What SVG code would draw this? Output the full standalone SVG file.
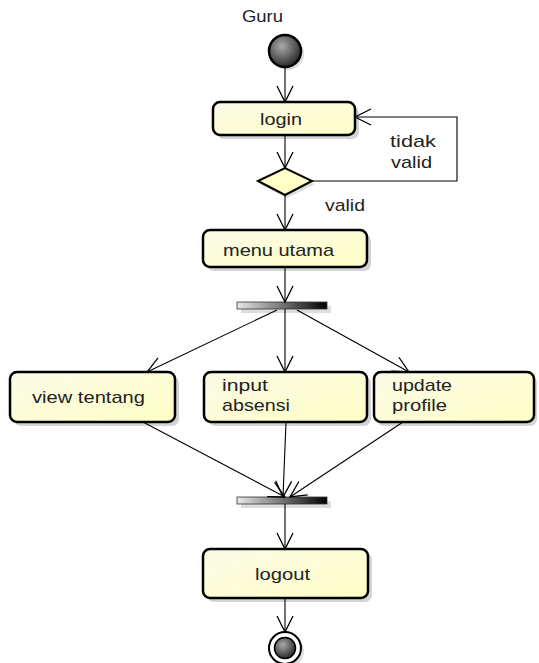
<svg xmlns="http://www.w3.org/2000/svg" width="539" height="663" viewBox="0 0 539 663">
<defs>
<linearGradient id="boxg" x1="0" y1="0" x2="1" y2="1">
<stop offset="0" stop-color="#fbfbe8"/>
<stop offset="1" stop-color="#ffffc6"/>
</linearGradient>
<linearGradient id="barg" x1="0" y1="0" x2="1" y2="0">
<stop offset="0" stop-color="#e8e8e8"/>
<stop offset="1" stop-color="#000"/>
</linearGradient>
<radialGradient id="ballg" cx="0.4" cy="0.35" r="0.7">
<stop offset="0" stop-color="#aaa"/>
<stop offset="1" stop-color="#222"/>
</radialGradient>
<marker id="arr" viewBox="0 0 20 20" refX="18" refY="10" markerWidth="20" markerHeight="20" markerUnits="userSpaceOnUse" orient="auto">
<path d="M2,2 L18,10 L2,18" fill="none" stroke="#000" stroke-width="1.3"/>
</marker>
</defs>
<style>
.box{fill:url(#boxg);stroke:#000;stroke-width:2.5}
.sh{fill:#d4d4d4}
.t{font-family:"Liberation Sans",Arial,sans-serif;font-size:17px;fill:#222}
.c{fill:none;stroke:#000;stroke-width:1.1}
</style>
<rect width="539" height="663" fill="#fff"/>
<text class="t" x="242" y="22" textLength="41" lengthAdjust="spacingAndGlyphs">Guru</text>

<g id="start">
<circle cx="288" cy="54" r="16" fill="#ddd"/>
<circle cx="285" cy="51" r="16" fill="url(#ballg)" stroke="#000" stroke-width="2.5"/>
</g>

<g id="login">
<rect class="sh" x="217" y="106" width="142" height="33" rx="7"/>
<rect class="box" x="213" y="102" width="142" height="33" rx="7"/>
<text class="t" x="260" y="125" textLength="42" lengthAdjust="spacingAndGlyphs">login</text>
</g>

<g id="decision">
<polygon points="259,184 287,171 315,184 287,198" fill="#ddd"/>
<polygon points="258,181 285,168 312,181 285,195" fill="#ffffc8" stroke="#000" stroke-width="2"/>
</g>

<g id="menu">
<rect class="sh" x="207" y="234" width="164" height="37" rx="7"/>
<rect class="box" x="203" y="230" width="164" height="37" rx="7"/>
<text class="t" x="223" y="256" textLength="111" lengthAdjust="spacingAndGlyphs">menu utama</text>
</g>

<g id="fork">
<rect x="241" y="306" width="90" height="7" fill="#ddd"/>
<rect x="237" y="302" width="90" height="7" fill="url(#barg)" stroke="#333" stroke-width="0.8"/>
</g>

<g id="view">
<rect class="sh" x="14" y="376" width="165" height="50" rx="7"/>
<rect class="box" x="10" y="372" width="165" height="50" rx="7"/>
<text class="t" x="32" y="403" textLength="113" lengthAdjust="spacingAndGlyphs">view tentang</text>
</g>

<g id="input">
<rect class="sh" x="208" y="376" width="163" height="50" rx="7"/>
<rect class="box" x="204" y="372" width="163" height="50" rx="7"/>
<text class="t" x="222" y="391" textLength="46" lengthAdjust="spacingAndGlyphs">input</text>
<text class="t" x="222" y="411" textLength="68" lengthAdjust="spacingAndGlyphs">absensi</text>
</g>

<g id="update">
<rect class="sh" x="377" y="376" width="160" height="50" rx="7"/>
<rect class="box" x="374" y="372" width="160" height="50" rx="7"/>
<text class="t" x="392" y="391" textLength="60" lengthAdjust="spacingAndGlyphs">update</text>
<text class="t" x="392" y="411" textLength="55" lengthAdjust="spacingAndGlyphs">profile</text>
</g>

<g id="join">
<rect x="241" y="501" width="90" height="7" fill="#ddd"/>
<rect x="237" y="497" width="90" height="7" fill="url(#barg)" stroke="#333" stroke-width="0.8"/>
</g>

<g id="logout">
<rect class="sh" x="207" y="553" width="165" height="49" rx="7"/>
<rect class="box" x="203" y="549" width="165" height="49" rx="7"/>
<text class="t" x="255" y="580" textLength="55" lengthAdjust="spacingAndGlyphs">logout</text>
</g>

<g id="end">
<circle cx="288" cy="651" r="16" fill="#ddd"/>
<circle cx="285" cy="648" r="16" fill="#fff" stroke="#000" stroke-width="2"/>
<circle cx="285" cy="648" r="10.5" fill="url(#ballg)" stroke="#000" stroke-width="1.5"/>
</g>

<g id="connectors">
<line class="c" x1="285" y1="67" x2="285" y2="102" marker-end="url(#arr)"/>
<line class="c" x1="285" y1="135" x2="285" y2="168" marker-end="url(#arr)"/>
<polyline class="c" points="312,181 457,181 457,117 355,117" marker-end="url(#arr)"/>
<line class="c" x1="285" y1="195" x2="285" y2="230" marker-end="url(#arr)"/>
<line class="c" x1="285" y1="267" x2="285" y2="302" marker-end="url(#arr)"/>
<line class="c" x1="277" y1="310" x2="147" y2="372" marker-end="url(#arr)"/>
<line class="c" x1="285" y1="309" x2="285" y2="372" marker-end="url(#arr)"/>
<line class="c" x1="297" y1="310" x2="409" y2="372" marker-end="url(#arr)"/>
<line class="c" x1="143" y1="422" x2="285" y2="497" marker-end="url(#arr)"/>
<line class="c" x1="286" y1="422" x2="283" y2="497" marker-end="url(#arr)"/>
<line class="c" x1="403" y1="422" x2="290" y2="497" marker-end="url(#arr)"/>
<line class="c" x1="285" y1="504" x2="285" y2="549" marker-end="url(#arr)"/>
<line class="c" x1="285" y1="598" x2="285" y2="632" marker-end="url(#arr)"/>
</g>
<text class="t" x="390" y="147" textLength="46" lengthAdjust="spacingAndGlyphs">tidak</text>
<text class="t" x="391" y="168" textLength="41" lengthAdjust="spacingAndGlyphs">valid</text>
<text class="t" x="325" y="211" textLength="40" lengthAdjust="spacingAndGlyphs">valid</text>
</svg>
